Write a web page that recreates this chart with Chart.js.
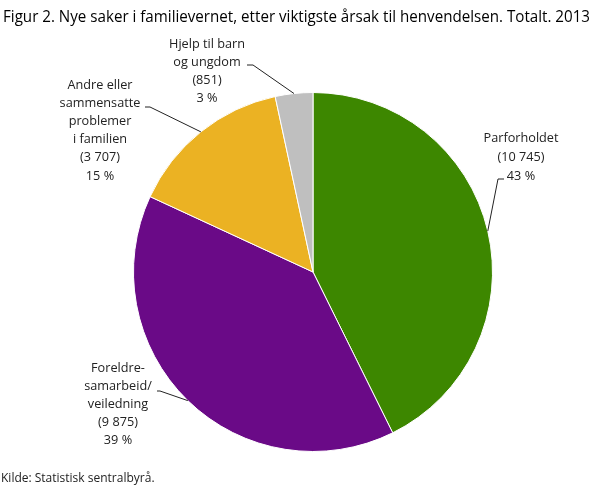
<!DOCTYPE html>
<html lang="no">
<head>
  <meta charset="UTF-8">
  <title>Figur 2. Nye saker i familievernet</title>
  <script src="https://cdn.jsdelivr.net/npm/chart.js"></script>
  <style>
    * { margin: 0; padding: 0; box-sizing: border-box; }
    body { background: #fff; width: 609px; height: 488px; overflow: hidden; }
    #wrap { position: relative; width: 609px; height: 488px; }
  </style>
</head>
<body>
  <div id="wrap"><canvas id="pie"></canvas></div>

  <script>
    // Data
    const titleText = 'Figur 2. Nye saker i familievernet, etter viktigste årsak til henvendelsen. Totalt. 2013';
    const sourceText = 'Kilde: Statistisk sentralbyrå.';
    const categories = [
      ['Parforholdet'],
      ['Foreldre-', 'samarbeid/', 'veiledning'],
      ['Andre eller', 'sammensatte', 'problemer', 'i familien'],
      ['Hjelp til barn', 'og ungdom']
    ];
    const caseCounts = [10745, 9875, 3707, 851];
    const countLabels = ['(10 745)', '(9 875)', '(3 707)', '(851)'];
    const shareLabels = ['43 %', '39 %', '15 %', '3 %'];
    const colors = ['#3d8700', '#6a0a87', '#ebb223', '#bfbfbf'];

    // Label layout, relative to pie centre (style only)
    const labelLayout = [
      { cx: 208, top: -134, lh: 19, elbow: [185, -93], end: [191, -93] },
      { cx: -195, top: 96, lh: 18.2, elbow: [-153, 119], end: [-156, 119] },
      { cx: -213, top: -187, lh: 18.2, elbow: [-163, -165], end: [-168, -165] },
      { cx: -106, top: -228, lh: 18, elbow: [-60, -207], end: [-66, -207] }
    ];

    const FONT = '"Open Sans", "DejaVu Sans", sans-serif';

    const labelPlugin = {
      id: 'sliceLabels',
      afterDatasetsDraw(chart) {
        const ctx = chart.ctx;
        const meta = chart.getDatasetMeta(0);
        ctx.save();
        meta.data.forEach((arc, i) => {
          const lay = labelLayout[i];
          const mid = (arc.startAngle + arc.endAngle) / 2;
          const ex = arc.x + Math.cos(mid) * arc.outerRadius;
          const ey = arc.y + Math.sin(mid) * arc.outerRadius;
          ctx.strokeStyle = '#222';
          ctx.lineWidth = 1;
          ctx.beginPath();
          ctx.moveTo(ex, ey);
          ctx.lineTo(arc.x + lay.elbow[0], arc.y + lay.elbow[1]);
          ctx.lineTo(arc.x + lay.end[0], arc.y + lay.end[1]);
          ctx.stroke();

          const lines = [...categories[i], countLabels[i], shareLabels[i]];
          ctx.fillStyle = '#222';
          ctx.font = '12.7px ' + FONT;
          ctx.textAlign = 'center';
          ctx.textBaseline = 'middle';
          lines.forEach((t, k) => {
            ctx.fillText(t, arc.x + lay.cx, arc.y + lay.top + k * lay.lh);
          });
        });
        ctx.restore();
      },
      afterDraw(chart) {
        const ctx = chart.ctx;
        ctx.save();
        ctx.fillStyle = '#000';
        ctx.textAlign = 'left';
        ctx.textBaseline = 'middle';
        ctx.font = '16px ' + FONT;
        const w = ctx.measureText(titleText).width;
        const sx = 587 / w;
        ctx.translate(3, 17);
        ctx.scale(sx, 1);
        ctx.fillText(titleText, 0, 0);
        ctx.restore();

        ctx.save();
        ctx.fillStyle = '#222';
        ctx.font = '12px ' + FONT;
        ctx.textAlign = 'left';
        ctx.textBaseline = 'middle';
        ctx.fillText(sourceText, 1, 479);
        ctx.restore();
      }
    };

    new Chart(document.getElementById('pie'), {
      type: 'pie',
      data: {
        labels: categories.map(c => c.join(' ')),
        datasets: [{
          data: caseCounts,
          backgroundColor: colors,
          borderColor: '#ffffff',
          borderWidth: 1
        }]
      },
      options: {
        responsive: true,
        maintainAspectRatio: false,
        animation: false,
        layout: { padding: { left: 133, right: 116, top: 92, bottom: 36 } },
        plugins: {
          legend: { display: false },
          tooltip: { enabled: false },
          title: { display: false }
        }
      },
      plugins: [labelPlugin]
    });
  </script>
</body>
</html>
